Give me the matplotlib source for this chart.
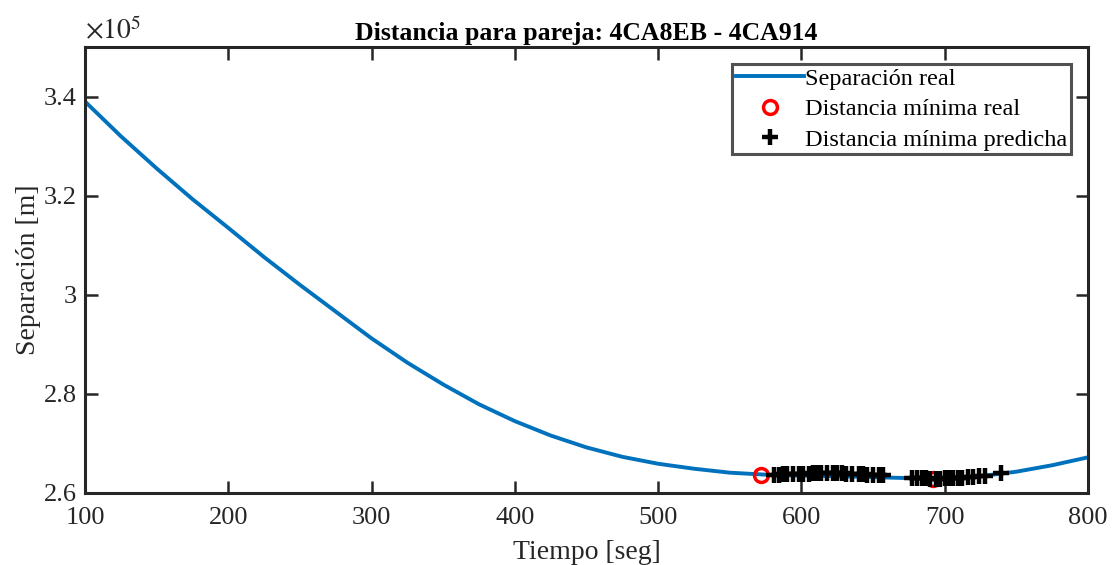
import numpy as np
import matplotlib
matplotlib.use("Agg")
import matplotlib.pyplot as plt
from matplotlib.ticker import FuncFormatter

plt.rcParams["font.family"] = ["Liberation Serif", "DejaVu Serif"]
plt.rcParams["mathtext.fontset"] = "stix"

# separacion real (tiempo en s, separacion en m)
t = [100, 125, 150, 175, 200, 225, 250, 275, 300, 325, 350, 375, 400, 425, 450,
     475, 500, 525, 550, 575, 600, 625, 650, 675, 700, 725, 750, 775, 800]
sep = [339000, 332000, 325500, 319300, 313500, 307600, 302000, 296600, 291200,
       286300, 281900, 277900, 274500, 271600, 269200, 267300, 265900, 264900,
       264100, 263700, 263500, 263400, 263200, 263000, 263000, 263400, 264300,
       265600, 267200]

# distancia minima real
t_min = [572, 692]
d_min = [263700, 262900]

# distancia minima predicha
t_pred = [581, 584, 587, 590, 594, 598, 601, 605, 608, 611, 614, 618, 622, 625,
          628, 631, 635, 640, 643, 646, 650, 654, 657,
          677, 681, 684, 687, 690, 694, 697, 700, 703, 706, 709, 712, 716, 720,
          724, 728, 739]
d_pred = [263700, 263700, 263800, 263800, 263800, 263900, 263900, 263900, 264000,
          264000, 264000, 264000, 264000, 264000, 264000, 263900, 263900, 263800,
          263800, 263700, 263700, 263600, 263600,
          263100, 263100, 263000, 263000, 262900, 262900, 262900, 263000, 263000,
          263000, 263100, 263100, 263200, 263300, 263400, 263500, 264000]

fig = plt.figure(figsize=(11.16, 5.65), dpi=100)
ax = fig.add_axes([85/1116, 1-493/565, (1088-85)/1116, (493-47)/565])

ax.plot(t, sep, color="#0072BD", lw=2.8, label="Separación real")
ax.plot(t_min, d_min, "o", mfc="none", mec="red", ms=10, mew=2.5,
        label="Distancia mínima real")
ax.plot(t_pred, d_pred, "+", color="black", ms=11, mew=3.2,
        label="Distancia mínima predicha")

ax.set_xlim(100, 800)
ax.set_ylim(260000, 350000)
ax.set_xticks(np.arange(100, 801, 100))
ax.set_yticks([260000, 280000, 300000, 320000, 340000])
ax.yaxis.set_major_formatter(FuncFormatter(lambda v, p: "%g" % round(v/1e5, 2)))
ax.text(0, 1.003, r"$\times10^5$", transform=ax.transAxes, fontsize=20,
        color="#262626", ha="left", va="bottom")

ax.tick_params(direction="in", length=9, width=1.8, top=True, right=True,
               labelsize=19, colors="#262626", pad=6)
ax.tick_params(axis="x", pad=10)
for s in ax.spines.values():
    s.set_linewidth(2.2)
    s.set_color("#262626")

ax.set_title("Distancia para pareja: 4CA8EB - 4CA914", fontsize=18.5,
             fontweight="bold", pad=5)
ax.set_xlabel("Tiempo [seg]", fontsize=20, color="#262626", labelpad=8)
ax.set_ylabel("Separación [m]", fontsize=20, color="#262626", labelpad=2)

leg = ax.legend(loc="upper right", fontsize=17.5, frameon=True, fancybox=False,
                borderpad=0.15, handlelength=2.8, handletextpad=0.05,
                labelspacing=0.35, borderaxespad=0.7)
leg.get_frame().set_edgecolor("#262626")
leg.get_frame().set_linewidth(2.2)

plt.savefig("out.png", dpi=100)
